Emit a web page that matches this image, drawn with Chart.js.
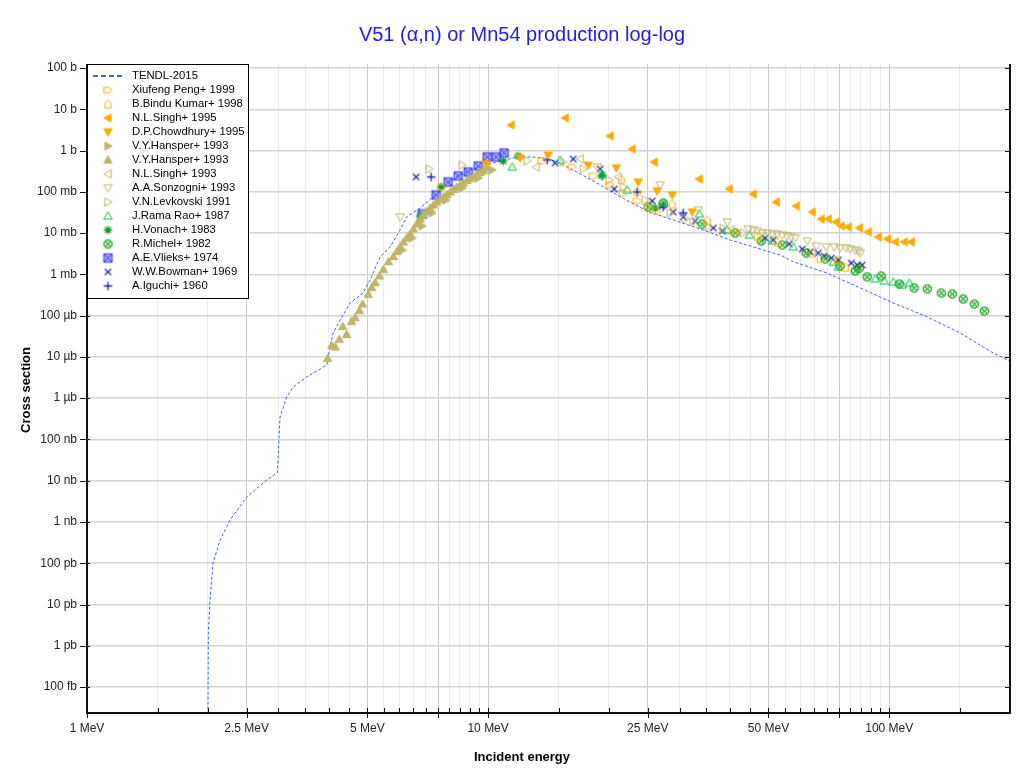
<!DOCTYPE html>
<html>
<head>
<meta charset="utf-8">
<script src="https://cdn.jsdelivr.net/npm/chart.js@4.4.1/dist/chart.umd.min.js"></script>
<style>
  html, body { margin: 0; padding: 0; background: #fff; }
  #wrap { width: 1020px; height: 774px; }
</style>
</head>
<body>
<div id="wrap"><canvas id="xs"></canvas></div>
<script>
// energies in MeV, cross sections in mb
const tendlE = [2.0, 2.007, 2.026, 2.062, 2.146, 2.273, 2.502, 2.806, 2.983, 3.012, 3.029, 3.148, 3.264, 3.531, 3.961, 4.036, 4.107, 4.275, 4.528, 4.879, 5.078, 5.379, 5.695, 6.032, 6.27, 6.767, 7.292, 7.723, 8.354, 9.019, 9.926, 10.51, 11.54, 12.02, 12.73, 13.72, 14.84, 16.29, 18.67, 21.34, 25.06, 28.93, 34.38, 40.13, 46.78, 53.49, 57.62, 69.94, 84.66, 102.3, 124.2, 150.3, 181.7, 200];
const tendlXS = [1e-12, 2.04e-9, 1.29e-8, 1.02e-7, 3.6e-7, 1.12e-6, 4.03e-6, 1.04e-5, 1.56e-5, 1.15e-4, 3.49e-4, 1.07e-3, 1.86e-3, 3.26e-3, 6.36e-3, 0.0174, 0.0379, 0.0783, 0.202, 0.353, 0.73, 2.63, 4.6, 11.9, 24.9, 40.5, 74.8, 131, 232, 337, 447, 537, 659, 697, 700, 659, 537, 337, 163, 76.2, 33, 20.8, 11.9, 6.8, 4.35, 2.94, 2.02, 1.08, 0.467, 0.202, 0.0942, 0.0379, 0.0124, 0.00794];

const pengE = [7.68, 13.63, 16.2, 18.28, 20.15, 21.72, 23.52, 25.06, 26.38];
const pengXS = [130.8, 558, 399, 241.6, 146.2, 93.6, 59.9, 42.9, 34.3];

const binduE = [21.46, 23.52, 28.76, 35.17, 40.83, 46.86, 52.57, 64.27, 67.29, 74.2, 77.7];
const binduXS = [204, 104.6, 50.7, 20.7, 11.88, 8.5, 6.08, 3.29, 2.49, 2.23, 1.51];

const singh95E = [11.41, 15.56, 20.15, 22.86, 25.94, 33.59, 39.9, 45.8, 52.27, 58.63, 64.27, 67.68, 70.46, 73.77, 75.9, 79.0, 84.2, 88.6, 93.9, 98.9, 103.5, 109.0, 113.5];
const singh95XS = [4157, 6144, 2251, 1090, 527.8, 204.4, 117.0, 88.5, 56.6, 45.3, 32.4, 21.9, 21.9, 18.56, 14.85, 14.04, 13.28, 10.62, 8.04, 7.19, 6.08, 6.08, 6.08];

const chowE = [9.89, 12.02, 14.11, 17.76, 20.86, 23.66, 26.38, 28.76, 32.27];
const chowXS = [472, 659.6, 779.6, 446.2, 377.6, 172.9, 104.6, 83.7, 32.4];

const hansRE = [6.103, 6.464, 6.846, 7.25, 7.858, 8.613, 9.443, 10.23];
const hansRXS = [3.89, 7.60, 14.85, 30.7, 63.3, 123.7, 216, 337.7];

const hansUE = [3.979, 4.076, 4.159, 4.255, 4.437, 4.342, 4.566, 4.659, 4.775, 4.864, 5.028, 5.128, 5.226, 5.357, 5.482, 5.642, 5.806, 5.921, 6.033, 6.149, 6.270, 6.390, 6.512, 6.641, 6.767, 6.897, 7.032, 7.168, 7.305, 7.450, 7.592, 7.737, 7.889, 8.04, 8.195, 8.354, 8.515, 8.678, 8.849, 9.019, 9.191, 9.372, 9.55, 9.734, 9.926];
const hansUXS = [0.00914, 0.0194, 0.01737, 0.0267, 0.0349, 0.0545, 0.0720, 0.090, 0.133, 0.191, 0.3286, 0.480, 0.635, 0.912, 1.31, 2.03, 2.71, 3.58, 4.60, 6.08, 7.60, 9.50, 12.56, 16.6, 21.9, 27.4, 33.3, 40.5, 47.9, 56.6, 65.1, 74.9, 86.1, 98.9, 113.8, 130.8, 146.2, 163.5, 188.0, 210.1, 235.0, 262.7, 293.8, 328.5, 377.5];

const singh93E = [13.17, 16.96, 21.1];
const singh93XS = [399, 624, 228.5];

const sonzE = [6.033, 18.7, 26.85, 33.4, 39.45, 44.5, 45.8, 46.86, 48.24, 49.64, 51.08, 52.57, 54.11, 55.68, 56.95, 58.27, 62.44, 65.77, 69.65, 72.92, 75.47, 78.12, 79.94, 82.27, 83.7, 84.66];
const sonzXS = [24.5, 399, 146.2, 36.3, 18.56, 12.56, 11.88, 11.23, 10.05, 10.05, 9.50, 9.50, 8.98, 8.50, 8.04, 7.60, 6.43, 4.86, 4.60, 4.60, 4.35, 4.35, 4.11, 3.89, 3.68, 3.29];

const levE = [7.127, 8.613, 12.51, 15.38, 17.26, 20.03, 21.72, 24.63, 28.44, 30.99, 32.45, 35.37, 38.55, 43.24];
const levXS = [357, 446, 558, 528, 357, 193, 131, 63.3, 30.7, 21.9, 18.56, 14.04, 13.28, 10.05];

const ramaE = [11.48, 15.12, 19.24, 22.22, 27.47, 33.59, 39.45, 44.77, 51.08, 57.62, 72.5, 74.62, 92.3, 97.2, 102.3, 107.8, 112.2];
const ramaXS = [399, 590, 255.5, 110.6, 53.6, 29.0, 11.88, 8.98, 6.43, 4.60, 1.99, 1.51, 0.772, 0.690, 0.653, 0.552, 0.617];

const vonachE = [6.767, 7.635, 10.90, 11.88, 19.24, 26.09];
const vonachXS = [25.9, 130.8, 558, 737.6, 255.5, 40.5];

const michelE = [25.06, 27.31, 34.17, 41.3, 47.95, 54.11, 62.09, 69.25, 75.47, 82.27, 84.2, 88.1, 95.5, 105.9, 115.4, 124.4, 134.8, 143.6, 152.9, 162.9, 172.6];
const michelXS = [42.9, 53.6, 16.6, 10.05, 6.43, 5.14, 3.29, 2.35, 1.59, 1.21, 1.42, 0.863, 0.912, 0.584, 0.467, 0.442, 0.353, 0.334, 0.253, 0.191, 0.129];

const vlieksE = [6.846, 7.418, 7.948, 8.418, 8.916, 9.443, 9.943, 10.47, 10.96];
const vlieksXS = [29.0, 83.7, 172.9, 241.6, 302, 422, 697.6, 697.6, 871.7];

const bowmanE = [6.613, 14.69, 16.29, 19.02, 20.62, 25.64, 27.16, 28.93, 30.64, 32.82, 36.4, 38.33, 49.07, 51.37, 56.3, 60.68, 63.53, 66.5, 68.84, 71.7, 74.62, 80.4, 83.2, 85.6];
const bowmanXS = [228.5, 499, 624, 357, 117, 59.9, 45.3, 32.4, 24.5, 19.6, 13.28, 11.23, 7.60, 6.80, 5.44, 4.11, 3.48, 3.29, 2.78, 2.49, 2.23, 1.88, 1.68, 1.68];

const iguchiE = [7.209, 14.03, 19.24, 23.52, 27.31, 30.64];
const iguchiXS = [228.5, 590, 241.6, 98.9, 42.9, 30.7];

// axes
const xTickValues = [1, 2.5, 5, 10, 25, 50, 100];
const xTickLabels = ['1 MeV', '2.5 MeV', '5 MeV', '10 MeV', '25 MeV', '50 MeV', '100 MeV'];
const xMajorGrid = [2.5, 5, 7.5, 10, 25, 50, 75, 100];
const xMinorGrid = [1.5, 2, 3, 3.5, 4, 4.5, 5.5, 6, 6.5, 7, 8, 8.5, 9, 9.5, 15, 20, 30, 35, 40, 45, 55, 60, 65, 70, 80, 85, 90, 95, 150];
const yTickValues = [1e-10, 1e-9, 1e-8, 1e-7, 1e-6, 1e-5, 1e-4, 1e-3, 1e-2, 1e-1, 1, 10, 100, 1e3, 1e4, 1e5];
const yTickLabels = ['100 fb', '1 pb', '10 pb', '100 pb', '1 nb', '10 nb', '100 nb', '1 µb', '10 µb', '100 µb', '1 mb', '10 mb', '100 mb', '1 b', '10 b', '100 b'];

const FONT = '"Liberation Sans", Arial, sans-serif';
Chart.defaults.font.family = FONT;

const orange = 'rgb(255,170,0)';
const olive = 'rgb(189,181,104)';

// little canvases used as point styles
function marker(shape, color, fill) {
  const size = 13;
  const c = document.createElement('canvas');
  c.width = c.height = size;
  const g = c.getContext('2d');
  const m = size / 2, r = 4.2;
  g.strokeStyle = color;
  g.lineWidth = 1;
  g.translate(m, m);
  g.beginPath();
  if (shape.startsWith('tri')) {
    const rot = { triU: 0, triR: Math.PI / 2, triD: Math.PI, triL: -Math.PI / 2 }[shape];
    g.rotate(rot);
    g.moveTo(0, -r);
    g.lineTo(r, r * 0.75);
    g.lineTo(-r, r * 0.75);
    g.closePath();
  } else if (shape === 'pentR') {
    g.moveTo(-r, -r * 0.65);
    g.lineTo(r * 0.3, -r * 0.65);
    g.lineTo(r, 0);
    g.lineTo(r * 0.3, r * 0.65);
    g.lineTo(-r, r * 0.65);
    g.closePath();
  } else if (shape === 'house') {
    g.moveTo(-r * 0.7, r);
    g.lineTo(-r * 0.7, -r * 0.2);
    g.lineTo(0, -r);
    g.lineTo(r * 0.7, -r * 0.2);
    g.lineTo(r * 0.7, r);
    g.closePath();
  } else if (shape === 'star') {
    for (let k = 0; k < 4; k++) {
      const t = k * Math.PI / 4;
      g.moveTo(-r * Math.cos(t), -r * Math.sin(t));
      g.lineTo(r * Math.cos(t), r * Math.sin(t));
    }
    g.lineWidth = 1.3;
  } else if (shape === 'circX') {
    g.arc(0, 0, r, 0, Math.PI * 2);
    if (fill) { g.fillStyle = fill; g.fill(); }
    const d = r * 0.7;
    g.moveTo(-d, -d); g.lineTo(d, d);
    g.moveTo(d, -d); g.lineTo(-d, d);
    g.stroke();
    return c;
  } else if (shape === 'boxX') {
    g.rect(-r, -r, 2 * r, 2 * r);
    if (fill) { g.fillStyle = fill; g.fill(); }
    g.moveTo(-r, -r); g.lineTo(r, r);
    g.moveTo(r, -r); g.lineTo(-r, r);
    g.stroke();
    return c;
  } else if (shape === 'x') {
    const d = r * 0.75;
    g.moveTo(-d, -d); g.lineTo(d, d);
    g.moveTo(d, -d); g.lineTo(-d, d);
    g.lineWidth = 1.3;
  } else if (shape === 'plus') {
    g.moveTo(-r, 0); g.lineTo(r, 0);
    g.moveTo(0, -r); g.lineTo(0, r);
    g.lineWidth = 1.3;
  }
  if (fill) { g.fillStyle = fill; g.fill(); }
  g.stroke();
  return c;
}

const pts = (e, s) => e.map((v, i) => ({ x: v, y: s[i] }));

const series = [
  ['Xiufeng Peng+ 1999', pengE, pengXS, marker('pentR', orange)],
  ['B.Bindu Kumar+ 1998', binduE, binduXS, marker('house', orange)],
  ['N.L.Singh+ 1995', singh95E, singh95XS, marker('triL', orange, orange)],
  ['D.P.Chowdhury+ 1995', chowE, chowXS, marker('triD', orange, orange)],
  ['V.Y.Hansper+ 1993', hansRE, hansRXS, marker('triR', olive, olive)],
  ['V.Y.Hansper+ 1993', hansUE, hansUXS, marker('triU', olive, olive)],
  ['N.L.Singh+ 1993', singh93E, singh93XS, marker('triL', olive)],
  ['A.A.Sonzogni+ 1993', sonzE, sonzXS, marker('triD', olive)],
  ['V.N.Levkovski 1991', levE, levXS, marker('triR', olive)],
  ['J.Rama Rao+ 1987', ramaE, ramaXS, marker('triU', 'rgb(0,195,70)')],
  ['H.Vonach+ 1983', vonachE, vonachXS, marker('star', 'rgb(0,160,40)')],
  ['R.Michel+ 1982', michelE, michelXS, marker('circX', 'rgb(0,140,0)', 'rgba(40,190,40,0.3)')],
  ['A.E.Vlieks+ 1974', vlieksE, vlieksXS, marker('boxX', 'rgb(55,55,225)', 'rgba(110,110,255,0.6)')],
  ['W.W.Bowman+ 1969', bowmanE, bowmanXS, marker('x', 'rgb(20,20,160)')],
  ['A.Iguchi+ 1960', iguchiE, iguchiXS, marker('plus', 'rgb(25,25,200)')]
];

const datasets = [{
  type: 'line',
  label: 'TENDL-2015',
  data: pts(tendlE, tendlXS),
  borderColor: 'rgb(60,100,235)',
  borderWidth: 1,
  borderDash: [3, 2],
  pointRadius: 0,
  fill: false,
  tension: 0,
  order: 20
}].concat(series.map(([label, e, s, ps]) => ({
  type: 'scatter',
  label: label,
  data: pts(e, s),
  pointStyle: ps,
  pointRadius: 5,
  order: 1
})));

const allX = [1].concat(xMajorGrid, xMinorGrid).sort((a, b) => a - b);

const decor = {
  id: 'decor',
  afterDraw(chart) {
    const { ctx, chartArea: a, scales: { x, y } } = chart;
    ctx.save();
    const seg = (x1, y1, x2, y2) => { ctx.beginPath(); ctx.moveTo(x1, y1); ctx.lineTo(x2, y2); ctx.stroke(); };

    // frame
    ctx.strokeStyle = '#111';
    ctx.lineWidth = 2;
    ctx.beginPath();
    ctx.moveTo(a.left, a.top);
    ctx.lineTo(a.left, a.bottom);
    ctx.lineTo(a.right, a.bottom);
    ctx.lineTo(a.right, a.top);
    ctx.stroke();

    ctx.lineWidth = 1;
    yTickValues.forEach(v => {
      const py = Math.round(y.getPixelForValue(v)) + 0.5;
      seg(a.left - 7, py, a.left + 3, py);
      seg(a.right - 5, py, a.right, py);
    });
    allX.forEach(v => {
      const px = Math.round(x.getPixelForValue(v)) + 0.5;
      const big = xMajorGrid.includes(v) || xTickValues.includes(v);
      seg(px, a.bottom - 5, px, big ? a.bottom + 5 : a.bottom);
    });

    // legend
    const lx = a.left + 0.5, ly = a.top + 0.5;
    ctx.fillStyle = '#fff';
    ctx.fillRect(lx, ly, 161, 234);
    ctx.strokeStyle = '#000';
    ctx.strokeRect(lx, ly, 161, 234);
    ctx.font = '11.3px ' + FONT;
    ctx.textBaseline = 'middle';
    ctx.textAlign = 'left';
    chart.data.datasets.forEach((d, i) => {
      const yy = a.top + 12 + i * 14;
      if (d.type === 'line') {
        ctx.save();
        ctx.strokeStyle = d.borderColor;
        ctx.lineWidth = 2;
        ctx.setLineDash([5, 3]);
        seg(a.left + 6, yy, a.left + 38, yy);
        ctx.restore();
      } else {
        const im = d.pointStyle;
        ctx.drawImage(im, a.left + 21 - im.width / 2, yy - im.height / 2);
      }
      ctx.fillStyle = '#000';
      ctx.fillText(d.label, a.left + 45, yy);
    });

    // titles
    ctx.textAlign = 'center';
    ctx.fillStyle = 'rgb(34,34,221)';
    ctx.font = '20px ' + FONT;
    ctx.fillText('V51 (α,n) or Mn54 production log-log', 522, 35);
    ctx.fillStyle = '#000';
    ctx.font = 'bold 13px ' + FONT;
    ctx.fillText('Incident energy', 522, 757);
    ctx.translate(26, 390);
    ctx.rotate(-Math.PI / 2);
    ctx.fillText('Cross section', 0, 0);
    ctx.restore();
  }
};

new Chart(document.getElementById('xs'), {
  data: { datasets: datasets },
  options: {
    responsive: true,
    maintainAspectRatio: false,
    animation: false,
    layout: { padding: { top: 64, right: 10, left: 0, bottom: 0 } },
    plugins: { legend: { display: false }, tooltip: { enabled: false }, title: { display: false } },
    scales: {
      x: {
        type: 'logarithmic',
        min: 1,
        max: 200,
        afterBuildTicks: s => { s.ticks = allX.map(v => ({ value: v })); },
        afterFit: s => { s.height = 61; },
        border: { display: false },
        grid: {
          drawTicks: false,
          color: c => (c.tick && xMajorGrid.includes(c.tick.value)) ? '#c9c9c9' : '#ececec',
          lineWidth: 1
        },
        ticks: {
          autoSkip: false,
          maxRotation: 0,
          padding: 8,
          color: '#222',
          font: { size: 12 },
          callback: v => { const i = xTickValues.indexOf(v); return i >= 0 ? xTickLabels[i] : ''; }
        }
      },
      y: {
        type: 'logarithmic',
        min: 2.35e-11,
        max: 1.25e5,
        afterBuildTicks: s => { s.ticks = yTickValues.map(v => ({ value: v })); },
        afterFit: s => { s.width = 87; },
        border: { display: false },
        grid: { drawTicks: false, color: '#d3d3d3', lineWidth: 1.5 },
        ticks: {
          autoSkip: false,
          padding: 10,
          color: '#222',
          font: { size: 12 },
          callback: v => { const i = yTickValues.indexOf(v); return i >= 0 ? yTickLabels[i] : ''; }
        }
      }
    }
  },
  plugins: [decor]
});
</script>
</body>
</html>
